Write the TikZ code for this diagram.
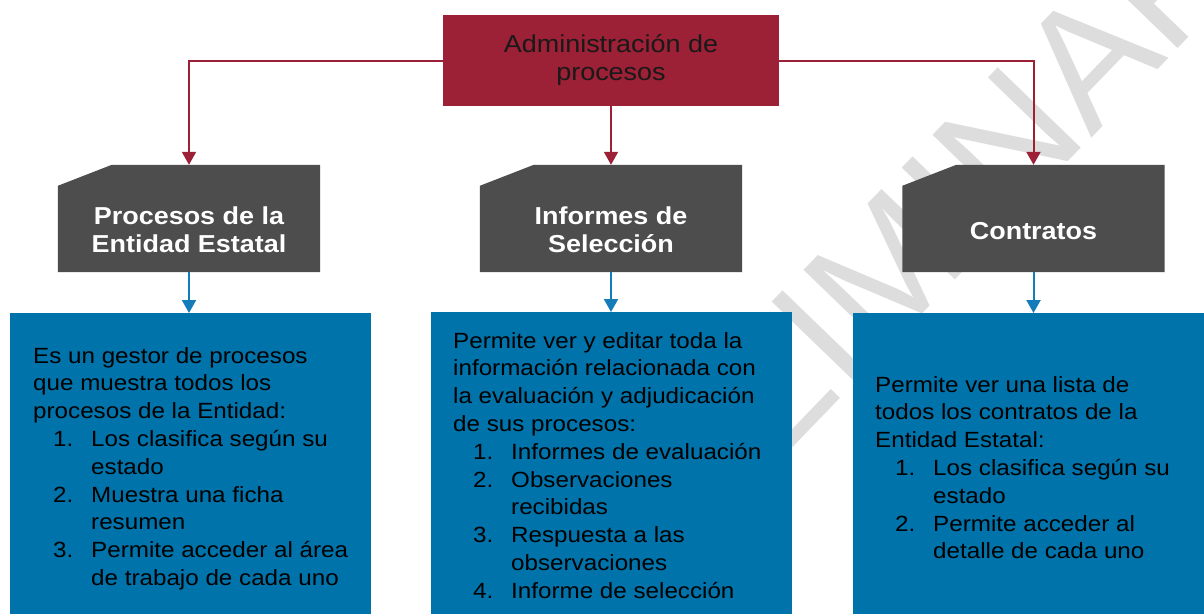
\documentclass[tikz,border=0pt]{standalone}
\usepackage{fontspec}
\setmainfont{Liberation Sans}[FakeStretch=1.1]
\newfontfamily\wmfont{Liberation Sans}
\usetikzlibrary{arrows.meta}
\definecolor{crim}{RGB}{156,32,54}
\definecolor{dgray}{RGB}{77,77,77}
\definecolor{bblue}{RGB}{0,115,170}
\definecolor{lblue}{RGB}{20,125,185}
\definecolor{wm}{RGB}{221,221,221}
\newcommand\Lline[1]{\hbox{#1}}
\newcommand\Litem[2]{\hbox{\hspace*{20pt}\makebox[38pt][l]{#1}#2}}
\newcommand\Lcont[1]{\hbox{\hspace*{58pt}#1}}
\newcommand\Btext[1]{\vtop{\baselineskip=27.8pt #1}}
\newcommand\Snip[1]{\fill[dgray] ([yshift=-21pt]#1.north west) -- ([xshift=54pt]#1.north west) -- (#1.north east) -- (#1.south east) -- (#1.south west) -- cycle;}
\begin{document}
\begin{tikzpicture}[x=1pt,y=-1pt,
  topbox/.style={fill=crim, minimum width=336pt, minimum height=91pt, inner sep=0pt,
    font=\fontsize{24.5}{28}\selectfont, text=black!90, align=center},
  darkbox/.style={rectangle, minimum width=262pt, minimum height=107pt, inner sep=0pt},
  darktext/.style={font=\fontsize{24.5}{28}\selectfont\bfseries, text=white, align=center, inner sep=0pt},
  bluebox/.style={fill=bblue, minimum width=361pt, minimum height=330pt, inner sep=0pt},
  bluetext/.style={font=\fontsize{22}{27.8}\selectfont, text=black, inner sep=0pt, anchor=base west},
  redline/.style={draw=crim, line width=2pt, -{Triangle[width=14pt,length=13pt]}},
  blueline/.style={draw=lblue, line width=2pt, -{Triangle[width=14pt,length=13pt]}},
  wmark/.style={font=\wmfont\fontsize{168}{168}\selectfont, text=wm, inner sep=0pt}
]
\useasboundingbox (0,0) rectangle (1204,613);
\fill[white] (0,0) rectangle (1204,613);
\clip (0,0) rectangle (1204,613);

% watermark
\node[wmark, rotate=46] (wmk) at (855,300) {PRELIMINAR};

% top box
\node[topbox] (top) at (611,60.5) {Administración de\\procesos};

% dark boxes (snipped corner)
\node[darkbox] (d1) at (189,218.5) {};
\node[darkbox] (d2) at (611,218.5) {};
\node[darkbox] (d3) at (1033.5,218.5) {};
\Snip{d1}
\Snip{d2}
\Snip{d3}
\node[darktext] (t1) at (189,230) {Procesos de la\\Entidad Estatal};
\node[darktext] (t2) at (611,230) {Informes de\\Selección};
\node[darktext] (t3) at (1033.5,231) {Contratos};

% blue boxes
\node[bluebox, anchor=north] (b1) at (190.5,313) {};
\node[bluebox, anchor=north] (b2) at (611.5,312) {};
\node[bluebox, anchor=north] (b3) at (1033,313) {};

\node[bluetext] (x1) at (33,363) {\Btext{%
\Lline{Es un gestor de procesos}
\Lline{que muestra todos los}
\Lline{procesos de la Entidad:}
\Litem{1.}{Los clasifica según su}
\Lcont{estado}
\Litem{2.}{Muestra una ficha}
\Lcont{resumen}
\Litem{3.}{Permite acceder al área}
\Lcont{de trabajo de cada uno}}};

\node[bluetext] (x2) at (453,348) {\Btext{%
\Lline{Permite ver y editar toda la}
\Lline{información relacionada con}
\Lline{la evaluación y adjudicación}
\Lline{de sus procesos:}
\Litem{1.}{Informes de evaluación}
\Litem{2.}{Observaciones}
\Lcont{recibidas}
\Litem{3.}{Respuesta a las}
\Lcont{observaciones}
\Litem{4.}{Informe de selección}}};

\node[bluetext] (x3) at (875,392) {\Btext{%
\Lline{Permite ver una lista de}
\Lline{todos los contratos de la}
\Lline{Entidad Estatal:}
\Litem{1.}{Los clasifica según su}
\Lcont{estado}
\Litem{2.}{Permite acceder al}
\Lcont{detalle de cada uno}}};

% connectors
\draw[redline] (top.west) -| (d1.north);
\draw[redline] (top.south) -- (d2.north);
\draw[redline] (top.east) -| (d3.north);
\draw[blueline] (d1.south) -- (d1.south |- b1.north);
\draw[blueline] (d2.south) -- (d2.south |- b2.north);
\draw[blueline] (d3.south) -- (d3.south |- b3.north);
\end{tikzpicture}
\end{document}
